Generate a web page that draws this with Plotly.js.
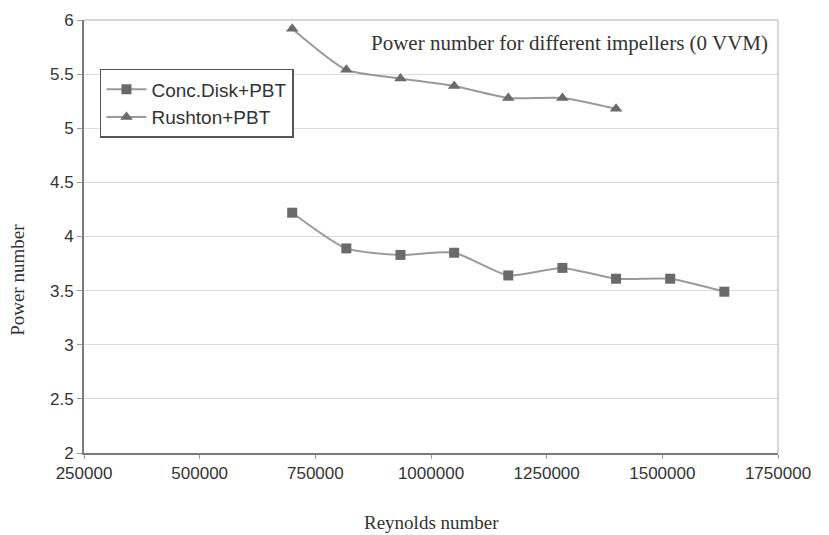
<!DOCTYPE html>
<html>
<head>
<meta charset="utf-8">
<script src="https://cdn.plot.ly/plotly-3.0.1.min.js"></script>
<style>html,body{margin:0;padding:0;background:#fff;}#chart{width:829px;height:535px;}</style>
</head>
<body>
<div id="chart"></div>
<script>
// Data
const reynoldsConc = [700000, 817000, 934000, 1050000, 1167000, 1284000, 1400000, 1517000, 1634000];
const powerConc = [4.22, 3.89, 3.83, 3.85, 3.64, 3.71, 3.61, 3.61, 3.49];
const reynoldsRushton = [700000, 817000, 934000, 1050000, 1167000, 1284000, 1400000];
const powerRushton = [5.92, 5.54, 5.46, 5.39, 5.28, 5.28, 5.18];
const seriesNames = ["Conc.Disk+PBT", "Rushton+PBT"];
const xTicks = [250000, 500000, 750000, 1000000, 1250000, 1500000, 1750000];
const yTicks = [2, 2.5, 3, 3.5, 4, 4.5, 5, 5.5, 6];

const lineColor = "#9a9a9a";
const markerColor = "#6a6a6a";
const serif = "Liberation Serif, Times New Roman, serif";

const traces = [
  {
    x: reynoldsConc, y: powerConc, name: seriesNames[0],
    type: "scatter", mode: "lines+markers",
    line: {color: lineColor, width: 2, shape: "spline", smoothing: 0.6},
    marker: {symbol: "square", size: 10, color: markerColor}
  },
  {
    x: reynoldsRushton, y: powerRushton, name: seriesNames[1],
    type: "scatter", mode: "lines+markers",
    line: {color: lineColor, width: 2, shape: "spline", smoothing: 0.6},
    marker: {symbol: "triangle-up", size: 11, color: markerColor}
  }
];

const layout = {
  width: 829, height: 535,
  margin: {l: 84, r: 51, t: 20, b: 82},
  paper_bgcolor: "#fff", plot_bgcolor: "#fff",
  font: {family: "Liberation Sans, Arial, sans-serif", color: "#333"},
  xaxis: {
    range: [250000, 1750000], tickvals: xTicks, ticktext: xTicks.map(String),
    showgrid: false, zeroline: false,
    showline: true, linecolor: "#7a7a7a", linewidth: 2,
    ticks: "outside", ticklen: 4, tickcolor: "#9a9a9a",
    tickfont: {size: 17, color: "#333"}
  },
  yaxis: {
    range: [2, 6], tickvals: yTicks, ticktext: yTicks.map(String),
    showgrid: true, gridcolor: "#dcdcdc", gridwidth: 1, zeroline: false,
    showline: true, linecolor: "#7a7a7a", linewidth: 2,
    ticks: "outside", ticklen: 5, tickcolor: "#9a9a9a",
    tickfont: {size: 17, color: "#333"}
  },
  shapes: [
    {type: "line", xref: "paper", yref: "paper", x0: 0, x1: 1, y0: 1, y1: 1, line: {color: "#c8c8c8", width: 1.5}},
    {type: "line", xref: "paper", yref: "paper", x0: 1, x1: 1, y0: 0, y1: 1, line: {color: "#c8c8c8", width: 1.5}}
  ],
  showlegend: true,
  legend: {
    x: 0.023, y: 0.887, xanchor: "left", yanchor: "top",
    bgcolor: "#fff", bordercolor: "#555", borderwidth: 1.5,
    font: {size: 19, color: "#333"},
    tracegroupgap: 0, itemwidth: 40
  },
  annotations: [
    {
      text: "Power number for different impellers (0 VVM)",
      xref: "paper", yref: "paper", x: 0.988, y: 0.947,
      xanchor: "right", yanchor: "middle", showarrow: false,
      font: {family: serif, size: 21, color: "#333"}
    },
    {
      text: "Reynolds number",
      xref: "paper", yref: "paper", x: 0.5, y: -0.16,
      xanchor: "center", yanchor: "middle", showarrow: false,
      font: {family: serif, size: 19, color: "#333"}
    },
    {
      text: "Power number",
      xref: "paper", yref: "paper", x: -0.095, y: 0.40,
      xanchor: "center", yanchor: "middle", showarrow: false, textangle: -90,
      font: {family: serif, size: 19, color: "#333"}
    }
  ]
};

Plotly.newPlot("chart", traces, layout, {displayModeBar: false, staticPlot: true});
</script>
</body>
</html>
